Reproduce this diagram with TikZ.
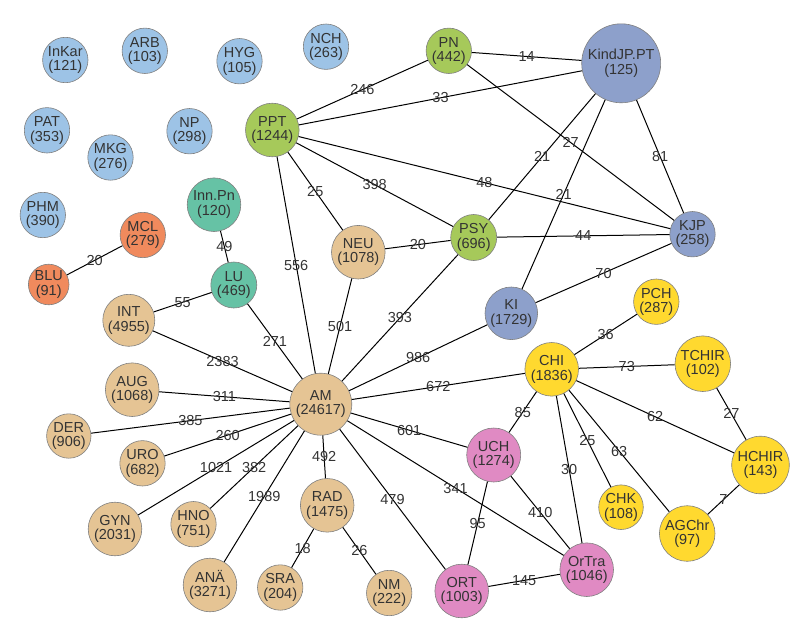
\documentclass[tikz,border=0pt]{standalone}
\usepackage{fontspec}
\setmainfont{Liberation Sans}
\definecolor{cLB}{HTML}{9DC3E6}
\definecolor{cGR}{HTML}{A6C95A}
\definecolor{cOR}{HTML}{F08A5D}
\definecolor{cTE}{HTML}{66C2A5}
\definecolor{cTA}{HTML}{E5C494}
\definecolor{cSB}{HTML}{8DA0CB}
\definecolor{cYE}{HTML}{FFD92F}
\definecolor{cPK}{HTML}{E08AC3}
\definecolor{cTX}{HTML}{333333}
\definecolor{cBD}{HTML}{808080}
\tikzset{
  nd/.style={circle, draw=cBD, line width=0.6pt, inner sep=0pt, align=center, text=cTX,
    font=\fontsize{14.5}{14.5}\selectfont},
  rs/.style={nd, minimum size=45.4pt},
  rm/.style={nd, minimum size=53.6pt},
  lk/.style={draw=black, line width=1pt},
  lb/.style={midway, text=cTX, inner sep=1pt, font=\fontsize{14.5}{14.5}\selectfont}
}
\begin{document}
\begin{tikzpicture}[x=1pt,y=-1pt]
\useasboundingbox (0,0) rectangle (800,632);
% isolated light blue
\node[rs, fill=cLB] (InKar) at (65.3,60) {InKar\\(121)};
\node[rs, fill=cLB] (ARB) at (144.8,50.8) {ARB\\(103)};
\node[rs, fill=cLB] (HYG) at (239.5,61.2) {HYG\\(105)};
\node[rs, fill=cLB] (NCH) at (326,46.7) {NCH\\(263)};
\node[rs, fill=cLB] (PAT) at (47,130.3) {PAT\\(353)};
\node[rs, fill=cLB] (NP) at (189.5,131.2) {NP\\(298)};
\node[rs, fill=cLB] (MKG) at (110.5,157.5) {MKG\\(276)};
\node[rs, fill=cLB] (PHM) at (42.8,215) {PHM\\(390)};
% orange
\node[rs, fill=cOR] (MCL) at (142.8,235) {MCL\\(279)};
\node[nd, minimum size=40.6pt, fill=cOR] (BLU) at (48.7,284.5) {BLU\\(91)};
% teal
\node[rm, fill=cTE] (InnPn) at (214,204.7) {Inn.Pn\\(120)};
\node[nd, minimum size=46pt, fill=cTE] (LU) at (233.8,285) {LU\\(469)};
% green
\node[rm, fill=cGR] (PPT) at (272.3,130) {PPT\\(1244)};
\node[rs, fill=cGR] (PN) at (448.8,50.8) {PN\\(442)};
\node[nd, minimum size=46pt, fill=cGR] (PSY) at (473.7,237.5) {PSY\\(696)};
% slate blue
\node[nd, minimum size=79pt, fill=cSB] (KJPT) at (621.2,63.3) {KindJP.PT\\(125)};
\node[rs, fill=cSB] (KJP) at (692.5,234.2) {KJP\\(258)};
\node[nd, minimum size=52.6pt, fill=cSB] (KI) at (511.3,313.3) {KI\\(1729)};
% tan
\node[rm, fill=cTA] (NEU) at (358.3,252.2) {NEU\\(1078)};
\node[nd, minimum size=52pt, fill=cTA] (INT) at (128.8,320.3) {INT\\(4955)};
\node[rm, fill=cTA] (AUG) at (132.2,389.7) {AUG\\(1068)};
\node[nd, minimum size=62pt, fill=cTA] (AM) at (320.8,404.2) {AM\\(24617)};
\node[nd, minimum size=44.4pt, fill=cTA] (DER) at (68.8,436) {DER\\(906)};
\node[rs, fill=cTA] (URO) at (142.5,463.3) {URO\\(682)};
\node[rm, fill=cTA] (GYN) at (115,529) {GYN\\(2031)};
\node[rs, fill=cTA] (HNO) at (193.5,524.2) {HNO\\(751)};
\node[rm, fill=cTA] (RAD) at (327.2,505.3) {RAD\\(1475)};
\node[rm, fill=cTA] (ANA) at (210,585) {ANÄ\\(3271)};
\node[rs, fill=cTA] (SRA) at (280.2,587.5) {SRA\\(204)};
\node[rs, fill=cTA] (NM) at (389.2,593) {NM\\(222)};
% yellow
\node[rs, fill=cYE] (PCH) at (656.3,301.7) {PCH\\(287)};
\node[rm, fill=cYE] (CHI) at (551.7,369.3) {CHI\\(1836)};
\node[nd, minimum size=55.6pt, fill=cYE] (TCHIR) at (702.8,363.7) {TCHIR\\(102)};
\node[nd, minimum size=57.6pt, fill=cYE] (HCHIR) at (760.5,465) {HCHIR\\(143)};
\node[nd, minimum size=44.6pt, fill=cYE] (CHK) at (621,507.2) {CHK\\(108)};
\node[nd, minimum size=55.6pt, fill=cYE] (AGChr) at (687.2,533.5) {AGChr\\(97)};
% pink
\node[nd, minimum size=54pt, fill=cPK] (UCH) at (493.7,455) {UCH\\(1274)};
\node[rm, fill=cPK] (OrTra) at (586.7,569.7) {OrTra\\(1046)};
\node[rm, fill=cPK] (ORT) at (461.7,591) {ORT\\(1003)};
% edges
\draw[lk] (PPT) -- node[lb]{246} (PN);
\draw[lk] (PN) -- node[lb]{14} (KJPT);
\draw[lk] (PPT) -- node[lb]{33} (KJPT);
\draw[lk] (PN) -- node[lb]{27} (KJP);
\draw[lk] (KJPT) -- node[lb]{81} (KJP);
\draw[lk] (KJPT) -- node[lb]{21} (PSY);
\draw[lk] (KJPT) -- node[lb]{21} (KI);
\draw[lk] (PPT) -- node[lb]{48} (KJP);
\draw[lk] (PPT) -- node[lb]{398} (PSY);
\draw[lk] (PPT) -- node[lb]{25} (NEU);
\draw[lk] (PPT) -- node[lb]{556} (AM);
\draw[lk] (NEU) -- node[lb]{20} (PSY);
\draw[lk] (PSY) -- node[lb]{44} (KJP);
\draw[lk] (KI) -- node[lb]{70} (KJP);
\draw[lk] (NEU) -- node[lb]{501} (AM);
\draw[lk] (PSY) -- node[lb]{393} (AM);
\draw[lk] (KI) -- node[lb]{986} (AM);
\draw[lk] (AM) -- node[lb]{672} (CHI);
\draw[lk] (AM) -- node[lb]{601} (UCH);
\draw[lk] (AM) -- node[lb]{341} (OrTra);
\draw[lk] (AM) -- node[lb]{479} (ORT);
\draw[lk] (AM) -- node[lb]{492} (RAD);
\draw[lk] (AM) -- node[lb]{1989} (ANA);
\draw[lk] (AM) -- node[lb]{382} (HNO);
\draw[lk] (AM) -- node[lb]{1021} (GYN);
\draw[lk] (AM) -- node[lb]{260} (URO);
\draw[lk] (AM) -- node[lb]{385} (DER);
\draw[lk] (AM) -- node[lb]{311} (AUG);
\draw[lk] (AM) -- node[lb]{2383} (INT);
\draw[lk] (AM) -- node[lb]{271} (LU);
\draw[lk] (LU) -- node[lb]{55} (INT);
\draw[lk] (LU) -- node[lb]{49} (InnPn);
\draw[lk] (BLU) -- node[lb]{20} (MCL);
\draw[lk] (RAD) -- node[lb]{18} (SRA);
\draw[lk] (RAD) -- node[lb]{26} (NM);
\draw[lk] (CHI) -- node[lb]{36} (PCH);
\draw[lk] (CHI) -- node[lb]{73} (TCHIR);
\draw[lk] (CHI) -- node[lb]{62} (HCHIR);
\draw[lk] (TCHIR) -- node[lb]{27} (HCHIR);
\draw[lk] (HCHIR) -- node[lb]{7} (AGChr);
\draw[lk] (CHI) -- node[lb]{63} (AGChr);
\draw[lk] (CHI) -- node[lb]{25} (CHK);
\draw[lk] (CHI) -- node[lb]{30} (OrTra);
\draw[lk] (CHI) -- node[lb]{85} (UCH);
\draw[lk] (UCH) -- node[lb]{95} (ORT);
\draw[lk] (UCH) -- node[lb]{410} (OrTra);
\draw[lk] (ORT) -- node[lb]{145} (OrTra);
\end{tikzpicture}
\end{document}
